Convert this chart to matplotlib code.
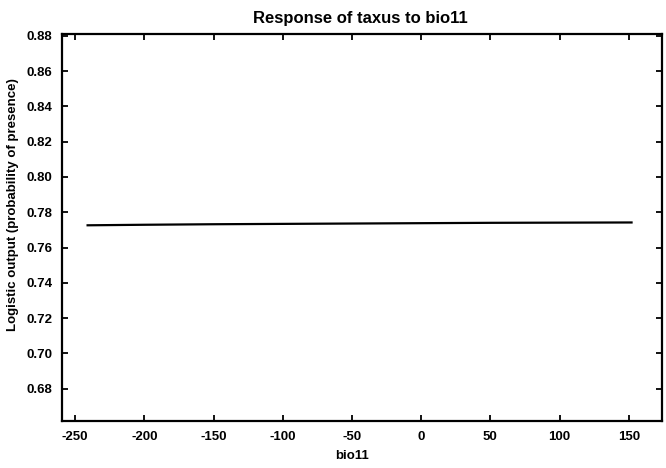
import matplotlib
matplotlib.use("Agg")
import matplotlib.pyplot as plt

# Data
bio11 = [-241, -200, -150, -100, -50, 0, 50, 100, 152]
logistic_output = [0.7726, 0.7729, 0.7732, 0.7734, 0.7736, 0.7738, 0.7740, 0.7741, 0.7742]
xticks = [-250, -200, -150, -100, -50, 0, 50, 100, 150]
yticks = [0.68, 0.70, 0.72, 0.74, 0.76, 0.78, 0.80, 0.82, 0.84, 0.86, 0.88]

plt.rcParams['font.family'] = ['Liberation Sans', 'DejaVu Sans']

W, H = 666, 468
fig = plt.figure(figsize=(W / 100, H / 100), dpi=100)
left, right, top, bottom = 62, 662, 34, 421
ax = fig.add_axes([left / W, 1 - bottom / H, (right - left) / W, (bottom - top) / H])

ax.plot(bio11, logistic_output, color='black', lw=1.6)

ax.set_xlim(-259.5, 174)
ax.set_ylim(0.6617, 0.881)
ax.set_xticks(xticks)
ax.set_xticklabels([str(v) for v in xticks])
ax.set_yticks(yticks)
ax.set_yticklabels([f"{v:.2f}" for v in yticks])

ax.tick_params(direction='in', length=4, width=1.3, top=True, right=True,
               labelsize=9.5, pad=7)
for lbl in ax.get_xticklabels() + ax.get_yticklabels():
    lbl.set_fontweight('bold')
for s in ax.spines.values():
    s.set_linewidth(1.6)
    s.set_color('black')

ax.set_title('Response of taxus to bio11', fontsize=12, fontweight='bold', pad=8)
ax.title.set_position((0.498, 1.0))
ax.set_xlabel('bio11', fontsize=9.5, fontweight='bold')
ax.set_ylabel('Logistic output (probability of presence)', fontsize=9.5, fontweight='bold')
ax.xaxis.set_label_coords(0.483, -0.075)
ax.yaxis.set_label_coords(-0.071, 0.56)

fig.savefig('out.png', dpi=100)
